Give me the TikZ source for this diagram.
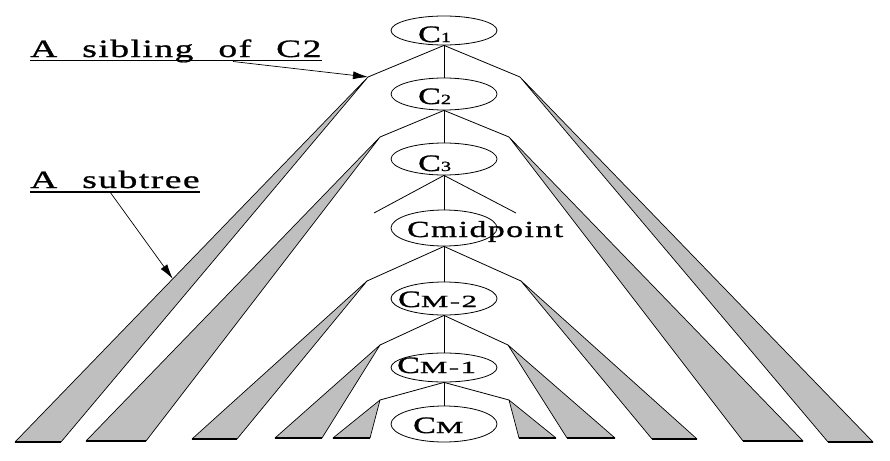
\documentclass[tikz,border=0pt]{standalone}
\usepackage{fontspec}
\usepackage{graphicx}
\usetikzlibrary{shapes.geometric,arrows.meta,calc}
\newfontfamily\nodefam[LetterSpace=5,FakeBold=1]{Liberation Serif}
\newfontfamily\lblfam[LetterSpace=4,WordSpace=2.3,FakeBold=0.8]{Liberation Serif}
\newcommand{\bigC}{{\fontsize{23.5}{23.5}\selectfont C}}
\newcommand{\smallsub}[1]{{\fontsize{14}{14}\selectfont #1}}
\newcommand{\midsub}[1]{\scalebox{1.25}[1]{\fontsize{17}{17}\selectfont #1}}
\newcommand{\ctxt}[1]{\scalebox{1.45}[1]{\nodefam #1}}
\newcommand{\ltxt}[1]{\scalebox{1.5}[1]{\lblfam\fontsize{25}{25}\selectfont #1}}
\begin{document}
\begin{tikzpicture}[x=1pt,y=-1pt,
  cnode/.style={ellipse,draw,line width=0.8pt,minimum width=106pt,inner sep=0pt},
  ctext/.style={anchor=base west,inner sep=0pt},
  conn/.style={line width=0.8pt},
  subtri/.style={draw,line width=0.7pt,fill=black!25,line join=round},
  basel/.style={line width=1.6pt},
  lbl/.style={anchor=base west,inner sep=0pt},
  uline/.style={line width=1.4pt},
  pointer/.style={line width=0.7pt,-{Latex[length=15pt,width=8pt]}}]
\useasboundingbox (0,0) rectangle (890,460);

% ellipses
\node[cnode,minimum height=29pt] (c1) at (444,30.5) {};
\node[cnode,minimum height=32pt] (c2) at (444,94) {};
\node[cnode,minimum height=32pt] (c3) at (444,159) {};
\node[cnode,minimum height=36pt] (cmid) at (444,228) {};
\node[cnode,minimum height=33pt] (cm2) at (444,298.5) {};
\node[cnode,minimum height=29pt] (cm1) at (444,367.5) {};
\node[cnode,minimum height=36pt] (cm) at (444,424) {};

% texts
\node[ctext] (t1) at (418,42) {\ctxt{\bigC\smallsub{1}}};
\node[ctext] (t2) at (418,104) {\ctxt{\bigC\smallsub{2}}};
\node[ctext] (t3) at (418,171) {\ctxt{\bigC\smallsub{3}}};
\node[ctext] (tmid) at (407,237) {\ctxt{{\fontsize{23}{23}\selectfont Cmidpoint}}};
\node[ctext] (tm2) at (398,307) {\ctxt{\bigC\midsub{M-2}}};
\node[ctext] (tm1) at (397,373) {\ctxt{\bigC\midsub{M-1}}};
\node[ctext] (tm) at (413,433) {\ctxt{\bigC\midsub{M}}};

% vertical chain
\draw[conn] (c1.south) -- (c2.north);
\draw[conn] (c2.south) -- (c3.north);
\draw[conn] (c3.south) -- (cmid.north);
\draw[conn] (cmid.south) -- (cm2.north);
\draw[conn] (cm2.south) -- (cm1.north);
\draw[conn] (cm1.south) -- (cm.north);

% branch end points (apexes)
\coordinate (a1l) at (368,77);   \coordinate (a1r) at (520,77);
\coordinate (a2l) at (380,137);  \coordinate (a2r) at (509,137);
\coordinate (a3l) at (374,213);  \coordinate (a3r) at (516,213);
\coordinate (a4l) at (367,281);  \coordinate (a4r) at (521,281);
\coordinate (a5l) at (380,345);  \coordinate (a5r) at (508,345);
\coordinate (a6l) at (380,400);  \coordinate (a6r) at (509,400);

% base corners
\coordinate (b1la) at (15,442);  \coordinate (b1lb) at (61,442);
\coordinate (b1ra) at (828,442); \coordinate (b1rb) at (873,442);
\coordinate (b2la) at (86,441);  \coordinate (b2lb) at (146,441);
\coordinate (b2ra) at (743,441); \coordinate (b2rb) at (803,441);
\coordinate (b4la) at (192,439); \coordinate (b4lb) at (237,439);
\coordinate (b4ra) at (652,439); \coordinate (b4rb) at (697,439);
\coordinate (b5la) at (275,438); \coordinate (b5lb) at (322,438);
\coordinate (b5ra) at (567,438); \coordinate (b5rb) at (615,438);
\coordinate (b6la) at (333,438); \coordinate (b6lb) at (370,438);
\coordinate (b6ra) at (519,438); \coordinate (b6rb) at (556,438);

% branches
\foreach \p/\k in {c1/1,c2/2,c3/3,cmid/4,cm2/5,cm1/6}{
  \draw[conn] (\p.south) -- (a\k l);
  \draw[conn] (\p.south) -- (a\k r);
}

% subtrees
\foreach \k in {1,2,4,5,6}{
  \draw[subtri] (a\k l) -- (b\k la) -- (b\k lb) -- cycle;
  \draw[basel] (b\k la) -- (b\k lb);
  \draw[subtri] (a\k r) -- (b\k ra) -- (b\k rb) -- cycle;
  \draw[basel] (b\k ra) -- (b\k rb);
}

% labels
\node[lbl] (sib) at (30,57) {\ltxt{A sibling of C2}};
\draw[uline] ([yshift=-3.5pt]sib.base west) -- ([yshift=-3.5pt]sib.base east);
\node[lbl] (sub) at (30,188) {\ltxt{A subtree}};
\draw[uline] ([yshift=-4pt]sub.base west) -- ([yshift=-4pt]sub.base east);

\coordinate (s1) at (233,61.5);
\coordinate (s2) at (110,192);
\coordinate (tip2) at ($(a1l)!0.553!(b1la)$);
\draw[pointer] (s1) -- (a1l);
\draw[pointer] (s2) -- (tip2);
\end{tikzpicture}
\end{document}
